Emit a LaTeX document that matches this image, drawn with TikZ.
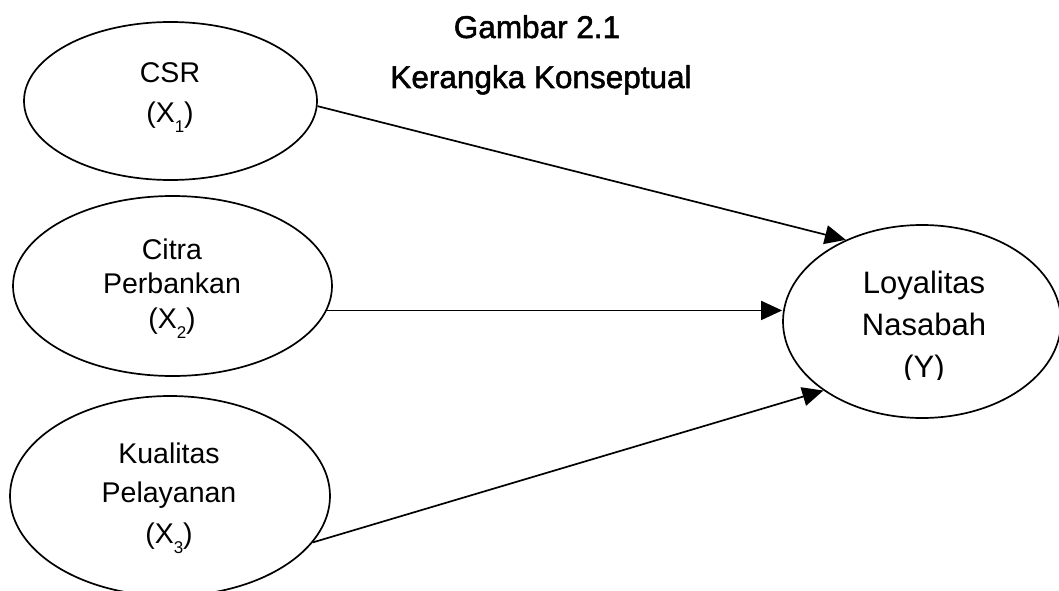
\documentclass[tikz,border=0pt]{standalone}
\usepackage{fontspec}
\setmainfont{Liberation Sans}
\newfontfamily\titlefont{Liberation Sans}[FakeBold=1.6]
\usetikzlibrary{shapes.geometric,arrows.meta}
\newcommand\subx[1]{\raisebox{-10pt}{\fontsize{17}{17}\selectfont #1}}
\begin{document}
\begin{tikzpicture}[x=1pt,y=-1pt,
  ell/.style={draw,ellipse,line width=1.7pt,inner sep=0pt},
  lbl/.style={anchor=base,inner sep=0pt,font=\fontsize{28.5}{30}\selectfont},
  lbly/.style={anchor=base,inner sep=0pt,font=\fontsize{31}{33}\selectfont},
  ttl/.style={anchor=base,inner sep=0pt,font=\titlefont\fontsize{31.5}{33}\selectfont},
  arr/.style={line width=1.7pt,-{Triangle[length=21pt,width=19pt]}}]
\useasboundingbox (0,0) rectangle (1059,591);

% ellipses
\node[ell,minimum width=293pt,minimum height=158pt] (csr) at (170.5,101) {};
\node[ell,minimum width=319pt,minimum height=180pt] (cit) at (172.5,286) {};
\node[ell,minimum width=320pt,minimum height=200pt] (kua) at (170,496) {};
\node[ell,minimum width=278pt,minimum height=193pt] (loy) at (922,321.5) {};

% titles
\node[ttl] (t1) at (537,38) {Gambar 2.1};
\node[ttl] (t2) at (541,88) {Kerangka Konseptual};

% labels
\node[lbl] (csr1) at (170,83) {CSR};
\node[lbl] (csr2) at (170,122) {(X\subx{1})};
\node[lbl] (cit1) at (172,259) {Citra};
\node[lbl] (cit2) at (172,293) {Perbankan};
\node[lbl] (cit3) at (172,328) {(X\subx{2})};
\node[lbl] (kua1) at (169,463) {Kualitas};
\node[lbl] (kua2) at (169,502) {Pelayanan};
\node[lbl] (kua3) at (169,543) {(X\subx{3})};
\node[lbly] (loy1) at (924,293) {Loyalitas};
\node[lbly] (loy2) at (924,335) {Nasabah};
\begin{scope}
\clip (800,340) rectangle (1059,379);
\node[lbly] (loy3) at (924,377) {(Y)};
\end{scope}

% arrows
\draw[arr] (csr.-2) -- (loy.133);
\draw[arr] (cit.-9) -- (cit.-9 -| loy.west);
\draw[arr] (kua.-18.5) -- (loy.215.8);
\end{tikzpicture}
\end{document}
